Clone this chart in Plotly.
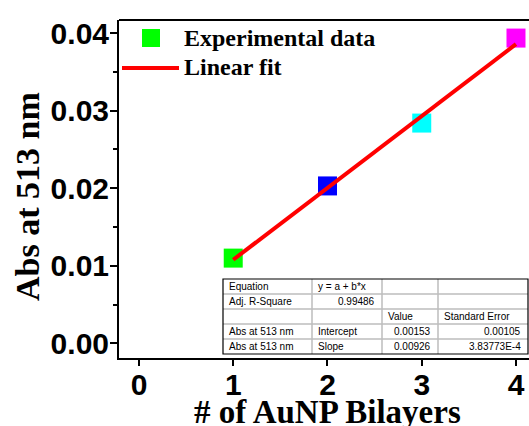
import plotly.graph_objects as go

# ---- data ----
bilayers = [1, 2, 3, 4]
absorbance = [0.0110, 0.0203, 0.0284, 0.03935]
point_colors = ["#00FF00", "#0000FF", "#00FFFF", "#FF00FF"]
fit_intercept = 0.00153
fit_slope = 0.00926
fit_x = [1, 4]

x_ticks = [0, 1, 2, 3, 4]
y_ticks = [0.00, 0.01, 0.02, 0.03, 0.04]

legend_labels = ["Experimental data", "Linear fit"]

table_rows = [
    ["Equation", "y = a + b*x", "", ""],
    ["Adj. R-Square", "0.99486", "", ""],
    ["", "", "Value", "Standard Error"],
    ["Abs at 513 nm", "Intercept", "0.00153", "0.00105"],
    ["Abs at 513 nm", "Slope", "0.00926", "3.83773E-4"],
]
# alignment per cell: 'l' or 'r'
table_align = [
    ["l", "l", "l", "l"],
    ["l", "r", "l", "l"],
    ["l", "l", "l", "l"],
    ["l", "l", "r", "r"],
    ["l", "l", "r", "r"],
]

W, H = 529, 426
ML, MT, MR, MB = 119, 20, 0, 68
PW = W - ML - MR
PH = H - MT - MB


def px(x):
    return (x - ML) / PW


def py(y):
    return (H - MB - y) / PH


fit_y = [fit_intercept + fit_slope * v for v in fit_x]

fig = go.Figure()
fig.add_trace(go.Scatter(
    x=bilayers, y=absorbance, mode="markers",
    marker=dict(symbol="square", size=19, color=point_colors, line=dict(width=0)),
    showlegend=False, hoverinfo="skip"))
fig.add_trace(go.Scatter(
    x=fit_x, y=fit_y, mode="lines",
    line=dict(color="#FF0000", width=4),
    showlegend=False, hoverinfo="skip"))

shapes = []
annotations = []

# top border
shapes.append(dict(type="line", xref="paper", yref="paper", x0=0, x1=1, y0=1, y1=1,
                   line=dict(color="black", width=2)))

# legend
shapes.append(dict(type="rect", xref="paper", yref="paper",
                   x0=px(142), x1=px(160), y0=py(47), y1=py(29),
                   fillcolor="#00FF00", line=dict(width=0)))
shapes.append(dict(type="line", xref="paper", yref="paper",
                   x0=px(122), x1=px(179), y0=py(68), y1=py(68),
                   line=dict(color="#FF0000", width=4)))
for lbl, yy in zip(legend_labels, [38, 67]):
    annotations.append(dict(xref="paper", yref="paper", x=px(182), y=py(yy),
                            xanchor="left", yanchor="middle", showarrow=False,
                            text=lbl,
                            font=dict(family="Liberation Serif", size=24, color="black", weight="bold")))

# table
col_edges = [223, 312, 382, 438, 528]
row_top = 279
row_h = 15
n_rows = len(table_rows)
shapes.append(dict(type="rect", xref="paper", yref="paper",
                   x0=px(col_edges[0]), x1=px(col_edges[-1]),
                   y0=py(row_top + n_rows * row_h), y1=py(row_top),
                   fillcolor="white", line=dict(width=0), layer="above"))
for r in range(1, n_rows):
    yy = row_top + r * row_h
    shapes.append(dict(type="line", xref="paper", yref="paper",
                       x0=px(col_edges[0]), x1=px(col_edges[-1]), y0=py(yy), y1=py(yy),
                       line=dict(color="#BDBDBD", width=1.5)))
for c in col_edges[1:-1]:
    shapes.append(dict(type="line", xref="paper", yref="paper",
                       x0=px(c), x1=px(c), y0=py(row_top), y1=py(row_top + n_rows * row_h),
                       line=dict(color="#BDBDBD", width=1.5)))
shapes.append(dict(type="rect", xref="paper", yref="paper",
                   x0=px(col_edges[0]), x1=px(col_edges[-1]),
                   y0=py(row_top + n_rows * row_h), y1=py(row_top),
                   line=dict(color="black", width=1.2)))
for r, row in enumerate(table_rows):
    yc = row_top + r * row_h + row_h / 2
    for c, txt in enumerate(row):
        if not txt:
            continue
        if table_align[r][c] == "l":
            xx, anc = col_edges[c] + 4, "left"
        else:
            xx, anc = col_edges[c + 1] - 5, "right"
        annotations.append(dict(xref="paper", yref="paper", x=px(xx), y=py(yc),
                                xanchor=anc, yanchor="middle", showarrow=False, text=txt,
                                font=dict(family="Liberation Sans", size=10, color="black")))

# axis titles
annotations.append(dict(xref="paper", yref="paper", x=px(327), y=py(426),
                        xanchor="center", yanchor="bottom", yshift=-6, showarrow=False,
                        text="# of AuNP Bilayers",
                        font=dict(family="Liberation Serif", size=33, color="black", weight="bold")))
annotations.append(dict(xref="paper", yref="paper", x=px(27), y=py(197),
                        xanchor="center", yanchor="middle", showarrow=False, textangle=-90,
                        text="Abs at 513 nm",
                        font=dict(family="Liberation Serif", size=34, color="black", weight="bold")))

tick_font = dict(family="Liberation Sans", size=30, color="black", weight="bold")

fig.update_layout(
    width=W, height=H,
    margin=dict(l=ML, r=MR, t=MT, b=MB, pad=0),
    paper_bgcolor="white", plot_bgcolor="white",
    shapes=shapes, annotations=annotations,
    xaxis=dict(range=[-0.212, 4.138], tickvals=x_ticks, ticktext=[str(v) for v in x_ticks],
               ticks="outside", ticklen=6, tickwidth=2, tickcolor="black",
               ticklabelstandoff=-7,
               showline=True, linecolor="black", linewidth=2,
               showgrid=False, zeroline=False, tickfont=tick_font),
    yaxis=dict(range=[-0.00187, 0.04168], tickvals=y_ticks, ticktext=["%.2f" % v for v in y_ticks],
               ticks="outside", ticklen=7, tickwidth=2, tickcolor="black",
               ticklabelstandoff=-5,
               minor=dict(tickvals=[0.005, 0.015, 0.025, 0.035], ticks="outside", ticklen=4,
                          tickwidth=2, tickcolor="black"),
               showline=True, linecolor="black", linewidth=2,
               showgrid=False, zeroline=False, tickfont=tick_font),
)

fig.write_html("out.html")
